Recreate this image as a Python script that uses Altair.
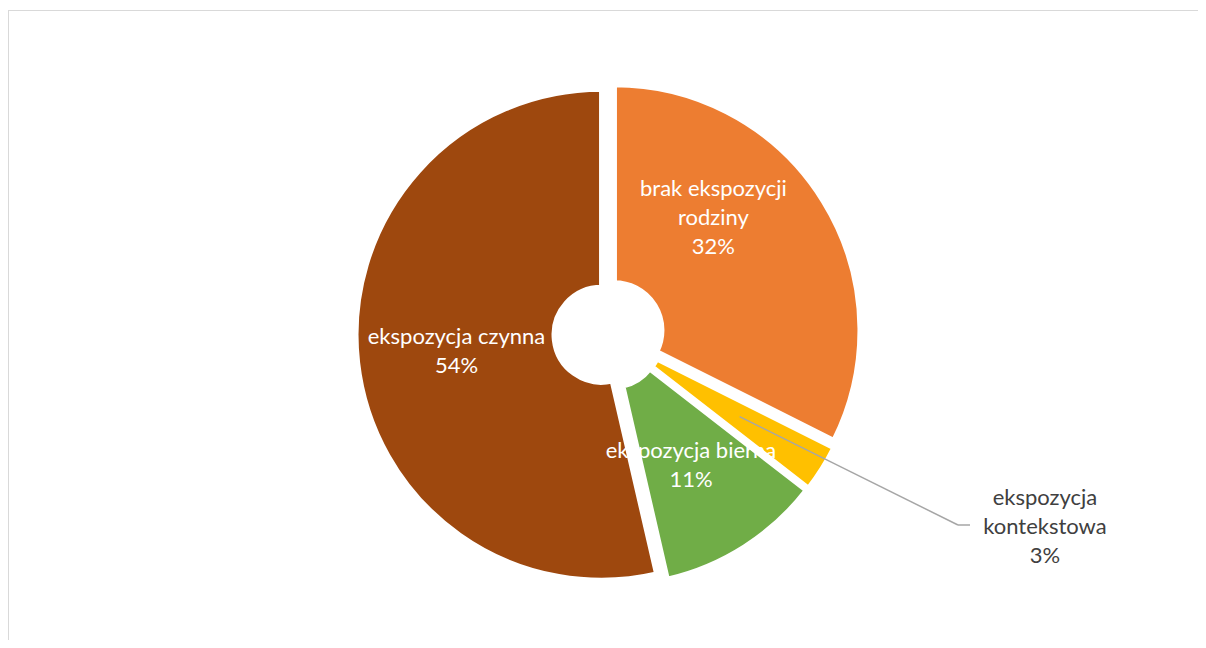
import altair as alt
import pandas as pd

categories = ["brak ekspozycji rodziny", "ekspozycja kontekstowa", "ekspozycja bierna", "ekspozycja czynna"]
label_names = ["brak ekspozycji\nrodziny", "ekspozycja\nkontekstowa", "ekspozycja bierna", "ekspozycja czynna"]
values = [32.4, 3.1, 10.9, 53.6]
colors = ["#ED7D31", "#FFC000", "#70AD47", "#9E480E"]

total = sum(values)
pcts = [f"{int(v / total * 100 + 0.5)}%" for v in values]
df = pd.DataFrame({
    "kategoria": categories,
    "nazwa": label_names,
    "wartosc": values,
    "kolejnosc": list(range(len(values))),
})
df["etykieta"] = [n + "\n" + p for n, p in zip(label_names, pcts)]

CX, CY = 600.5, 326
EXPLODE = 7
FONT = "Lato"
W, H = 1190, 632

base = alt.Chart(df).transform_joinaggregate(
    suma="sum(wartosc)"
).transform_window(
    cum="sum(wartosc)", sort=[alt.SortField("kolejnosc")], frame=[None, 0]
).transform_calculate(
    t0="(datum.cum - datum.wartosc) / datum.suma * 2 * PI",
    t1="datum.cum / datum.suma * 2 * PI",
    tmid="(datum.cum - datum.wartosc / 2) / datum.suma * 2 * PI",
)

arcs = base.transform_calculate(
    cx=f"{CX} + {EXPLODE} * sin(datum.tmid)",
    cy=f"{CY} - {EXPLODE} * cos(datum.tmid)",
).mark_arc(
    outerRadius=245.5, innerRadius=47.5, stroke="white", strokeWidth=5, strokeJoin="round"
).encode(
    theta=alt.Theta("t0:Q", scale=None),
    theta2="t1:Q",
    color=alt.Color("kategoria:N", scale=alt.Scale(domain=categories, range=colors), legend=None),
    x=alt.X("cx:Q", scale=None),
    y=alt.Y("cy:Q", scale=None),
)


def label(cat, r, dx, dy, color):
    return base.transform_filter(alt.datum.kategoria == cat).mark_text(
        radius=r, dx=dx, dy=dy, font=FONT, fontSize=22, lineHeight=29,
        lineBreak="\n", align="center", baseline="middle", color=color,
    ).encode(
        theta=alt.Theta("tmid:Q", scale=None),
        text="etykieta:N",
        x=alt.value(CX),
        y=alt.value(CY),
    )


labels = [
    label(categories[0], 155, -27, -64, "white"),
    label(categories[1], 270, 208, 20, "#404040"),
    label(categories[2], 155, -1, -14, "white"),
    label(categories[3], 153, 0, -14, "white"),
]

leader = base.transform_filter(alt.datum.kategoria == categories[1]).transform_calculate(
    lx=f"{CX} + 155 * sin(datum.tmid)",
    ly=f"{CY} - 155 * cos(datum.tmid)",
).mark_rule(color="#A6A6A6", strokeWidth=1.5).encode(
    x=alt.X("lx:Q", scale=None),
    y=alt.Y("ly:Q", scale=None),
    x2=alt.value(950),
    y2=alt.value(517),
)
one = pd.DataFrame({"a": [0]})
leader2 = alt.Chart(one).mark_rule(color="#A6A6A6", strokeWidth=1.5).encode(
    x=alt.value(950), x2=alt.value(962), y=alt.value(517), y2=alt.value(517)
)

frame_top = alt.Chart(one).mark_rule(color="#D9D9D9", strokeWidth=1).encode(
    x=alt.value(0), x2=alt.value(W), y=alt.value(2.5), y2=alt.value(2.5)
)
frame_left = alt.Chart(one).mark_rule(color="#D9D9D9", strokeWidth=1).encode(
    x=alt.value(0.5), x2=alt.value(0.5), y=alt.value(2.5), y2=alt.value(H)
)

chart = alt.layer(frame_top, frame_left, arcs, leader, leader2, *labels).properties(
    width=W, height=H, padding=0, autosize=alt.AutoSizeParams(type="none")
).configure_view(strokeWidth=0, stroke=None)

chart.save("out.html", embed_options={"renderer": "svg", "actions": False})
